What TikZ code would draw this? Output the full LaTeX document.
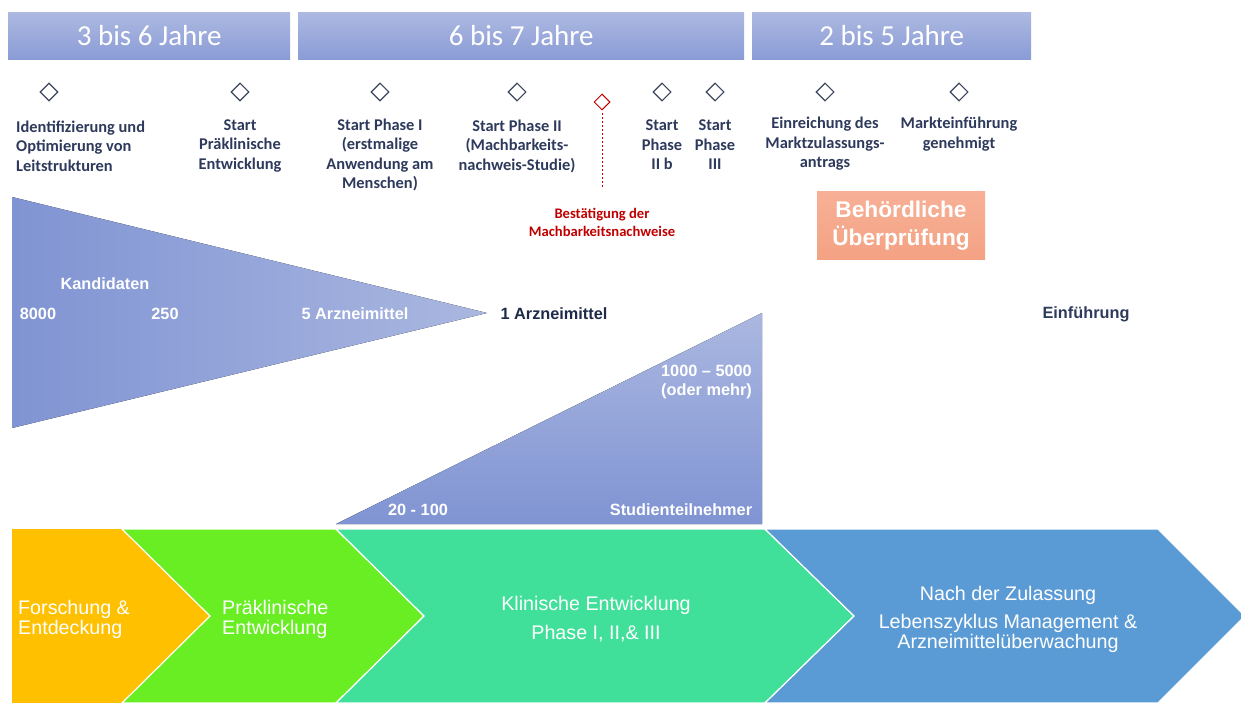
\documentclass[tikz,border=0pt]{standalone}
\usepackage{fontspec}
\setmainfont{Carlito}
\newfontfamily\arialfont{Liberation Sans}
\usetikzlibrary{shapes.geometric}
\definecolor{barTop}{HTML}{ADB9E1}
\definecolor{barBot}{HTML}{8A9CD6}
\definecolor{navy}{HTML}{2E3A5C}
\definecolor{deepnavy}{HTML}{1F2A48}
\definecolor{diaLine}{HTML}{3D4661}
\definecolor{alertRed}{HTML}{C00000}
\definecolor{funLeft}{HTML}{8094D3}
\definecolor{funRight}{HTML}{AAB7E0}
\definecolor{salmonTop}{HTML}{F7B096}
\definecolor{salmonBot}{HTML}{F4A283}
\definecolor{chOrange}{HTML}{FFC000}
\definecolor{chGreen}{HTML}{68EE23}
\definecolor{chTeal}{HTML}{41E09A}
\definecolor{chBlue}{HTML}{5B9BD5}
\begin{document}
\begin{tikzpicture}[x=1pt,y=-1pt,
  headbar/.style={top color=barTop, bottom color=barBot, draw=none,
    text=white, font=\fontsize{29}{30}\selectfont, inner sep=0pt, anchor=north west},
  milestone/.style={diamond, draw=diaLine, line width=1.1pt, fill=white,
    minimum width=18pt, minimum height=18pt, inner sep=0pt},
  lbl/.style={font=\bfseries\fontsize{16.4}{19.5}\selectfont, text=navy, align=center, inner sep=0pt},
  tritext/.style={font=\arialfont\bfseries\fontsize{16.3}{19}\selectfont, text=white, inner sep=0pt},
  phasetext/.style={font=\arialfont\fontsize{19.7}{20}\selectfont, text=white, inner sep=0pt},
  chevron/.style={draw=white, line width=1.2pt, line join=miter}
]
\useasboundingbox (0,0) rectangle (1241,703);
\clip (0,0) rectangle (1241,703);

% duration bars
\node[headbar, minimum width=282pt, minimum height=47pt] (bar1) at (8,12) {3 bis 6 Jahre};
\node[headbar, minimum width=446pt, minimum height=47pt] (bar2) at (298,12) {6 bis 7 Jahre};
\node[headbar, minimum width=279pt, minimum height=47pt] (bar3) at (752,12) {2 bis 5 Jahre};

% milestones
\node[milestone] (m1) at (49,92) {};
\node[milestone] (m2) at (240,92) {};
\node[milestone] (m3) at (380,92) {};
\node[milestone] (m4) at (517,92) {};
\node[milestone] (m5) at (662,92) {};
\node[milestone] (m6) at (715,92) {};
\node[milestone] (m7) at (825,92) {};
\node[milestone] (m8) at (959,92) {};
\node[milestone, draw=alertRed, line width=1pt, minimum width=16pt, minimum height=16pt] (mr) at (602,102) {};
\coordinate (mrend) at (602,188);
\draw[alertRed, line width=0.6pt, dash pattern=on 2pt off 2pt] ([yshift=-3pt]mr.south) -- (mrend);

% milestone labels
\node[lbl, anchor=west, align=left] (l1) at (16,146) {Identifizierung und\\Optimierung von\\Leitstrukturen};
\node[lbl] (l2) at (240,146) {Start\\Präklinische\\Entwicklung};
\node[lbl] (l3) at (380,155) {Start Phase I\\(erstmalige\\Anwendung am\\Menschen)};
\node[lbl] (l4) at (517,146) {Start Phase II\\(Machbarkeits-\\nachweis-Studie)};
\node[lbl] (l5) at (662,145) {Start\\Phase\\II b};
\node[lbl] (l6) at (715,145) {Start\\Phase\\III};
\node[lbl] (l7) at (825,144) {Einreichung des\\Marktzulassungs-\\antrags};
\node[lbl] (l8) at (959,134) {Markteinführung\\genehmigt};
\node[lbl, text=alertRed, font=\bfseries\fontsize{14.6}{18}\selectfont] (lr) at (602,222) {Bestätigung der\\Machbarkeitsnachweise};

% regulatory review
\node[top color=salmonTop, bottom color=salmonBot, minimum width=168pt, minimum height=67pt,
  text=white, align=center, inner sep=0pt,
  font=\arialfont\bfseries\fontsize{22.7}{28}\selectfont] (review) at (901,225.5) {Behördliche\\Überprüfung};

% candidate funnel
\fill[left color=funLeft, right color=funRight] (12,197) -- (487,313) -- (12,428) -- cycle;
\node[tritext] (kand) at (105,284) {Kandidaten};
\node[tritext] (n8000) at (38,314) {8000};
\node[tritext] (n250) at (165,314) {250};
\node[tritext] (n5) at (355,314) {5 Arzneimittel};
\node[tritext, text=deepnavy] (n1) at (554,314) {1 Arzneimittel};
\node[tritext, text=navy] (launch) at (1086,314) {Einführung};

% participant wedge
\fill[top color=funRight, bottom color=funLeft] (336,524) -- (762,524) -- (762,313) -- cycle;
\node[tritext, anchor=east, align=right] (pmax) at (752,381.5) {1000 – 5000\\(oder mehr)};
\node[tritext] (pmin) at (418,510) {20 - 100};
\node[tritext] (pstud) at (681,510) {Studienteilnehmer};

% phase chevrons
\fill[chOrange] (12,529) -- (122,529) -- (210,616) -- (122,703) -- (12,703) -- cycle;
\filldraw[chevron, fill=chGreen] (122,529) -- (336,529) -- (424,616) -- (336,703) -- (122,703) -- (210,616) -- cycle;
\filldraw[chevron, fill=chTeal] (336,529) -- (765,529) -- (854,616) -- (765,703) -- (336,703) -- (424,616) -- cycle;
\filldraw[chevron, fill=chBlue] (765,529) -- (1158,529) -- (1245,616) -- (1158,703) -- (765,703) -- (854,616) -- cycle;

\node[phasetext, anchor=west, align=left] (p1) at (18,619) {Forschung \&\\Entdeckung};
\node[phasetext, anchor=west, align=left] (p2) at (222,619) {Präklinische\\Entwicklung};
\node[phasetext, align=center, font=\arialfont\fontsize{19.7}{29}\selectfont] (p3) at (596,619.5) {Klinische Entwicklung\\Phase I, II,\& III};
\node[phasetext, align=center] (p4) at (1008,619) {Nach der Zulassung\\[8pt]Lebenszyklus Management \&\\Arzneimittelüberwachung};
\end{tikzpicture}
\end{document}
